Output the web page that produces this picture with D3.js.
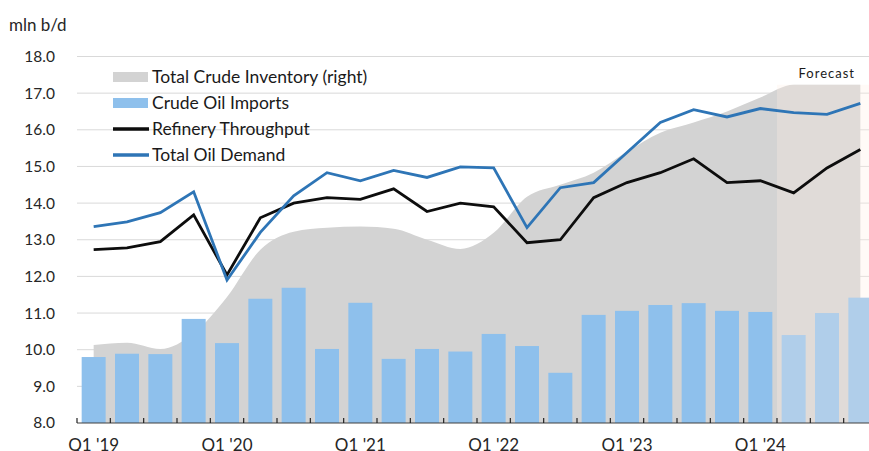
<!DOCTYPE html>
<html><head><meta charset="utf-8">
<script src="https://cdn.jsdelivr.net/npm/d3@7"></script>
<style>body{margin:0;background:#fff;} svg{display:block;font-family:Lato,"Open Sans",sans-serif;}</style>
</head><body><svg id="c" width="869" height="451"></svg>
<script>
const quarters = ["Q1 '19","Q2 '19","Q3 '19","Q4 '19","Q1 '20","Q2 '20","Q3 '20","Q4 '20",
  "Q1 '21","Q2 '21","Q3 '21","Q4 '21","Q1 '22","Q2 '22","Q3 '22","Q4 '22",
  "Q1 '23","Q2 '23","Q3 '23","Q4 '23","Q1 '24","Q2 '24","Q3 '24","Q4 '24"];
const crudeImports = [9.80,9.89,9.88,10.84,10.18,11.39,11.69,10.02,11.28,9.75,10.02,9.95,
  10.43,10.10,9.37,10.95,11.06,11.22,11.27,11.06,11.03,10.40,11.00,11.42];
const refineryThroughput = [12.73,12.78,12.95,13.68,12.04,13.60,14.00,14.15,14.10,14.39,13.77,14.00,
  13.90,12.92,13.00,14.15,14.56,14.83,15.21,14.56,14.61,14.28,14.96,15.46];
const totalOilDemand = [13.36,13.49,13.74,14.31,11.90,13.20,14.20,14.83,14.61,14.89,14.70,14.99,
  14.96,13.33,14.42,14.56,15.38,16.20,16.55,16.35,16.58,16.47,16.42,16.72];
// Total crude inventory, right axis (mln bbl)
const crudeInventory = [213,219,202,245,344,473,522,533,536,530,500,475,
  519,617,650,683,740,792,820,850,888,923,923,923];
const leftTicks = [8,9,10,11,12,13,14,15,16,17,18];
const yearLabels = ["Q1 '19","Q1 '20","Q1 '21","Q1 '22","Q1 '23","Q1 '24"];
const forecastStart = "Q2 '24";
const legendItems = [
  {label:"Total Crude Inventory (right)", type:"area"},
  {label:"Crude Oil Imports", type:"bar"},
  {label:"Refinery Throughput", type:"black"},
  {label:"Total Oil Demand", type:"blue"}];

const svg = d3.select("#c");
const L = 77, R = 877, T = 56.5, B = 423;
const x = d3.scaleBand().domain(quarters).range([L,R]).paddingInner(0.28).paddingOuter(0.14);
const xc = q => x(q) + x.bandwidth()/2;
const y = d3.scaleLinear().domain([8,18]).range([B,T]);
const yR = d3.scaleLinear().domain([0,1000]).range([B,T]);

const C = {area:"#d3d3d3", bar:"#8ec0ec", black:"#0d0d0d", blue:"#2e75b6", grid:"#d9d9d9"};

// gridlines
svg.append("g").selectAll("line").data(leftTicks.filter(d=>d>8)).join("line")
  .attr("x1",L).attr("x2",869).attr("y1",d=>y(d)).attr("y2",d=>y(d))
  .attr("stroke",C.grid).attr("stroke-width",1);

// inventory area
const area = d3.area().x((d,i)=>xc(quarters[i])).y0(B).y1(d=>yR(d)).curve(d3.curveMonotoneX);
svg.append("path").datum(crudeInventory).attr("d",area).attr("fill",C.area);

// bars
svg.append("g").selectAll("rect").data(crudeImports).join("rect")
  .attr("x",(d,i)=>x(quarters[i])).attr("width",x.bandwidth())
  .attr("y",d=>y(d)).attr("height",d=>B-y(d)).attr("fill",C.bar);

// forecast overlay
const fx = x(forecastStart) - x.step()*x.paddingInner()/2;
svg.append("rect").attr("x",fx).attr("width",R-fx)
  .attr("y",yR(d3.max(crudeInventory))).attr("height",B-yR(d3.max(crudeInventory)))
  .attr("fill","rgba(255,238,228,0.3)");
svg.append("text").attr("x",855).attr("y",77.5).attr("text-anchor","end")
  .attr("font-size",13).attr("letter-spacing",1).attr("fill","#1a1a1a").text("Forecast");

// lines
const line = d3.line().x((d,i)=>xc(quarters[i])).y(d=>y(d));
svg.append("path").datum(refineryThroughput).attr("d",line).attr("fill","none")
  .attr("stroke",C.black).attr("stroke-width",2.8).attr("stroke-linejoin","miter");
svg.append("path").datum(totalOilDemand).attr("d",line).attr("fill","none")
  .attr("stroke",C.blue).attr("stroke-width",2.8).attr("stroke-linejoin","miter");

// x axis
svg.append("line").attr("x1",L).attr("x2",869).attr("y1",B).attr("y2",B)
  .attr("stroke","#404040").attr("stroke-width",1.2);
svg.append("g").selectAll("line").data(quarters).join("line")
  .attr("x1",(d)=>x(d)-x.step()*0.14).attr("x2",(d)=>x(d)-x.step()*0.14)
  .attr("y1",B).attr("y2",B-5).attr("stroke","#222").attr("stroke-width",1.2);
svg.append("g").selectAll("text").data(yearLabels).join("text")
  .attr("x",d=>xc(d)).attr("y",451).attr("text-anchor","middle")
  .attr("font-size",17).attr("fill","#262626").text(d=>d);

// y axis labels
const yAxis = d3.axisLeft(y).tickValues(leftTicks).tickFormat(d3.format(".1f")).tickSize(0).tickPadding(0);
const gy = svg.append("g").attr("transform","translate(55,0)").call(yAxis);
gy.select(".domain").remove();
gy.selectAll("text").attr("font-size",15.5).attr("fill","#262626").attr("font-family","Lato,'Open Sans',sans-serif");
svg.append("text").attr("x",9).attr("y",31).attr("font-size",17).attr("fill","#262626").text("mln b/d");

// legend
const lg = svg.append("g").selectAll("g").data(legendItems).join("g")
  .attr("transform",(d,i)=>`translate(113,${77+i*26})`);
lg.each(function(d){
  const g = d3.select(this);
  if(d.type==="area") g.append("rect").attr("x",0).attr("y",-5).attr("width",35).attr("height",10).attr("fill",C.area);
  else if(d.type==="bar") g.append("rect").attr("x",0).attr("y",-5).attr("width",35).attr("height",10).attr("fill",C.bar);
  else g.append("line").attr("x1",0).attr("x2",36).attr("y1",0).attr("y2",0)
    .attr("stroke",d.type==="black"?C.black:C.blue).attr("stroke-width",3.5);
  g.append("text").attr("x",39).attr("y",6).attr("font-size",17.5).attr("fill","#1a1a1a").text(d.label);
});
</script></body></html>
